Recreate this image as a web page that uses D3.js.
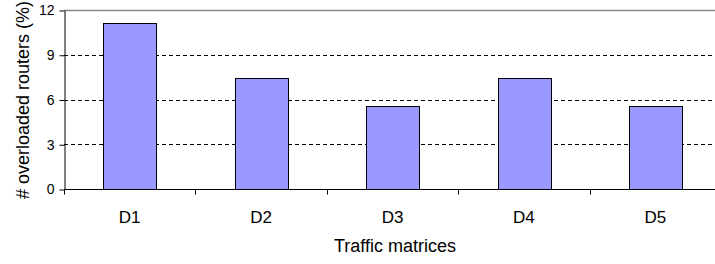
<!DOCTYPE html>
<html>
<head>
<meta charset="utf-8">
<script src="https://cdn.jsdelivr.net/npm/d3@7"></script>
<style>
  body { margin: 0; background: #fff; }
  svg { display: block; font-family: "Liberation Sans", Arial, sans-serif; }
</style>
</head>
<body>
<svg></svg>
<script>
let width = 715, height = 264;

// data
const categories = ["D1", "D2", "D3", "D4", "D5"];
const values = [11.11, 7.41, 5.56, 7.41, 5.56];
const yTicks = [0, 3, 6, 9, 12];

let svg = d3.select("svg")
    .attr("width", width)
    .attr("height", height)

let plotLeft = 64, plotTop = 10, plotBottom = 189, plotRight = 721;

let x = d3.scaleBand()
    .domain(categories)
    .range([plotLeft, plotRight])
    .padding(0)

let y = d3.scaleLinear()
    .domain([0, 12])
    .range([plotBottom, plotTop])

// grid lines
svg.append("g")
    .selectAll("line")
    .data(yTicks.filter(d => d > 0 && d < 12))
    .enter()
    .append("line")
    .attr("x1", plotLeft)
    .attr("x2", plotRight)
    .attr("y1", d => Math.round(y(d)) + 0.5)
    .attr("y2", d => Math.round(y(d)) + 0.5)
    .attr("stroke", "#000")
    .attr("stroke-dasharray", "4,3")

// top border of plot area
svg.append("line")
    .attr("x1", plotLeft).attr("x2", plotRight)
    .attr("y1", Math.round(y(12)) + 0.5).attr("y2", Math.round(y(12)) + 0.5)
    .attr("stroke", "#888")
    .attr("stroke-width", 1.5)

// bars
let bw = x.bandwidth() * 0.4;
svg.append("g")
    .selectAll("rect")
    .data(values)
    .enter()
    .append("rect")
    .attr("x", (d, i) => Math.round(x(categories[i]) + (x.bandwidth() - bw) / 2) + 0.5)
    .attr("y", d => Math.round(y(d)) + 0.5)
    .attr("width", Math.round(bw))
    .attr("height", d => Math.round(y(0)) - Math.round(y(d)))
    .attr("fill", "#9999ff")
    .attr("stroke", "#000")
    .attr("stroke-width", 1)

// y axis
let yAxis = svg.append("g")
    .attr("transform", "translate(" + (plotLeft + 0.5) + ",0.5)")
    .call(d3.axisLeft(y).tickValues(yTicks).tickSize(5).tickPadding(5).tickSizeOuter(0))
yAxis.select(".domain").attr("stroke", "#000")
yAxis.selectAll("text").style("font-size", "14px").style("font-family", "Liberation Sans, Arial, sans-serif").attr("fill", "#000")

// x axis with ticks at category boundaries
let xAxisG = svg.append("g")
    .attr("transform", "translate(0," + (Math.round(y(0)) + 0.5) + ")")
xAxisG.append("line")
    .attr("x1", plotLeft).attr("x2", plotRight)
    .attr("stroke", "#000")
xAxisG.selectAll(".tk")
    .data(categories.concat(["end"]))
    .enter()
    .append("line")
    .attr("class", "tk")
    .attr("x1", (d, i) => Math.round(i < categories.length ? x(d) : plotRight) + 0.5)
    .attr("x2", (d, i) => Math.round(i < categories.length ? x(d) : plotRight) + 0.5)
    .attr("y1", 0)
    .attr("y2", 5)
    .attr("stroke", "#000")
xAxisG.selectAll(".lbl")
    .data(categories)
    .enter()
    .append("text")
    .attr("class", "lbl")
    .attr("text-anchor", "middle")
    .attr("font-size", "17px")
    .attr("x", d => x(d) + x.bandwidth() / 2)
    .attr("y", 33)
    .text(d => d)

// axis titles
svg.append("text")
    .attr("x", 395)
    .attr("y", 252)
    .attr("text-anchor", "middle")
    .attr("font-size", "18px")
    .text("Traffic matrices")

svg.append("text")
    .attr("transform", "translate(29,100) rotate(-90)")
    .attr("text-anchor", "middle")
    .attr("font-size", "18px")
    .text("# overloaded routers (%)")
</script>
</body>
</html>
